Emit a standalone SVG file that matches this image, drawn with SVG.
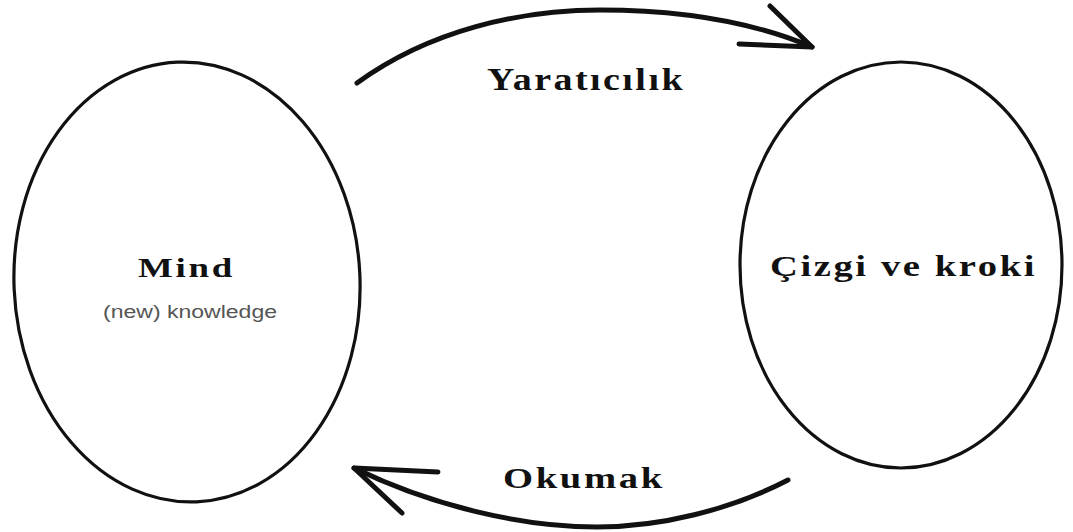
<svg xmlns="http://www.w3.org/2000/svg" width="1073" height="532" viewBox="0 0 1073 532">
<style>
.shape{fill:none;stroke:#111;stroke-width:3.2}
.conn{fill:none;stroke:#111;stroke-width:5;stroke-linecap:round;stroke-linejoin:round}
.title{font-family:"Liberation Serif",serif;font-weight:bold;fill:#111;letter-spacing:2px}
.sub{font-family:"Liberation Sans",sans-serif;fill:#555;font-size:18px}
</style>
<rect width="1073" height="532" fill="#fff"/>
<g id="mind">
<ellipse class="shape" cx="187" cy="282" rx="173" ry="220" transform="rotate(-2.5 187 282)"/>
<text class="title" x="138" y="277" font-size="27" textLength="97" lengthAdjust="spacingAndGlyphs">Mind</text>
<text class="sub" x="103" y="318" textLength="174" lengthAdjust="spacingAndGlyphs">(new) knowledge</text>
</g>
<g id="cizgi">
<ellipse class="shape" cx="901" cy="265" rx="161" ry="203"/>
<text class="title" x="770" y="276" font-size="30" textLength="267" lengthAdjust="spacingAndGlyphs">Çizgi ve kroki</text>
</g>
<g id="connectors">
<path class="conn" d="M357 83 C430 30 520 10 600 10 C690 10 760 25 812 47"/>
<path class="conn" d="M770 6 L812 47 L739 44"/>
<text class="title" x="487" y="90" font-size="31" textLength="198" lengthAdjust="spacingAndGlyphs">Yaratıcılık</text>
<path class="conn" d="M788 480 C730 510 660 527 597 527 C520 527 430 505 354 468"/>
<path class="conn" d="M438 472 L354 468 L402 513"/>
<text class="title" x="503" y="488" font-size="29" textLength="162" lengthAdjust="spacingAndGlyphs">Okumak</text>
</g>
</svg>
